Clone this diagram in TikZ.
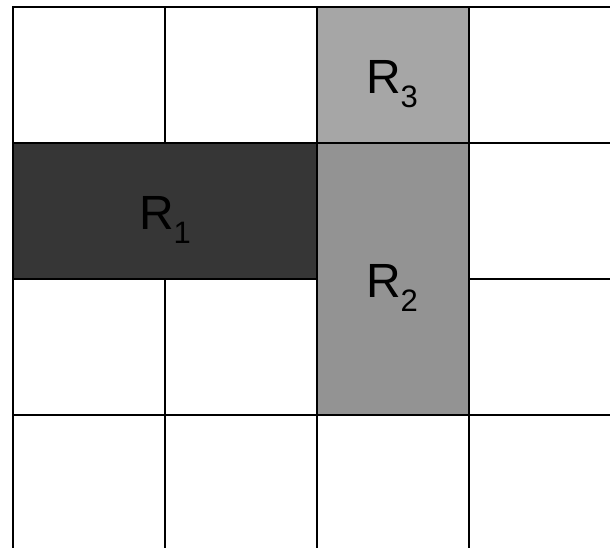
\documentclass[tikz,border=0pt]{standalone}
\usepackage{fontspec}
\setmainfont{Liberation Sans}
\definecolor{rone}{HTML}{363636}
\definecolor{rtwo}{HTML}{939393}
\definecolor{rthree}{HTML}{A6A6A6}
\begin{document}
\begin{tikzpicture}[x=1pt,y=-1pt,
  gridline/.style={line width=2pt,black,line cap=rect},
  region/.style={draw=black,line width=2pt},
  rlabel/.style={anchor=base,inner sep=0pt,font=\fontsize{48}{48}\selectfont}]
\useasboundingbox (0,0) rectangle (610,547);
\fill[white] (0,0) rectangle (610,547);
% regions
\fill[rone] (13,143) rectangle (317,279);
\fill[rtwo] (317,143) rectangle (469,415);
\fill[rthree] (317,7) rectangle (469,143);
% grid lines
\draw[gridline] (13,547) -- (13,7) -- (615,7);
\draw[gridline] (165,7) -- (165,143);
\draw[gridline] (165,279) -- (165,552);
\draw[gridline] (317,7) -- (317,552);
\draw[gridline] (469,7) -- (469,552);
\draw[gridline] (13,143) -- (615,143);
\draw[gridline] (13,279) -- (317,279);
\draw[gridline] (469,279) -- (615,279);
\draw[gridline] (13,415) -- (615,415);
% labels
\newcommand{\rsub}[1]{R\raisebox{-14pt}{\fontsize{31}{31}\selectfont #1}}
\node[rlabel] (l1) at (165,229) {\rsub{1}};
\node[rlabel] (l2) at (392,297) {\rsub{2}};
\node[rlabel] (l3) at (392,93) {\rsub{3}};
\end{tikzpicture}
\end{document}
